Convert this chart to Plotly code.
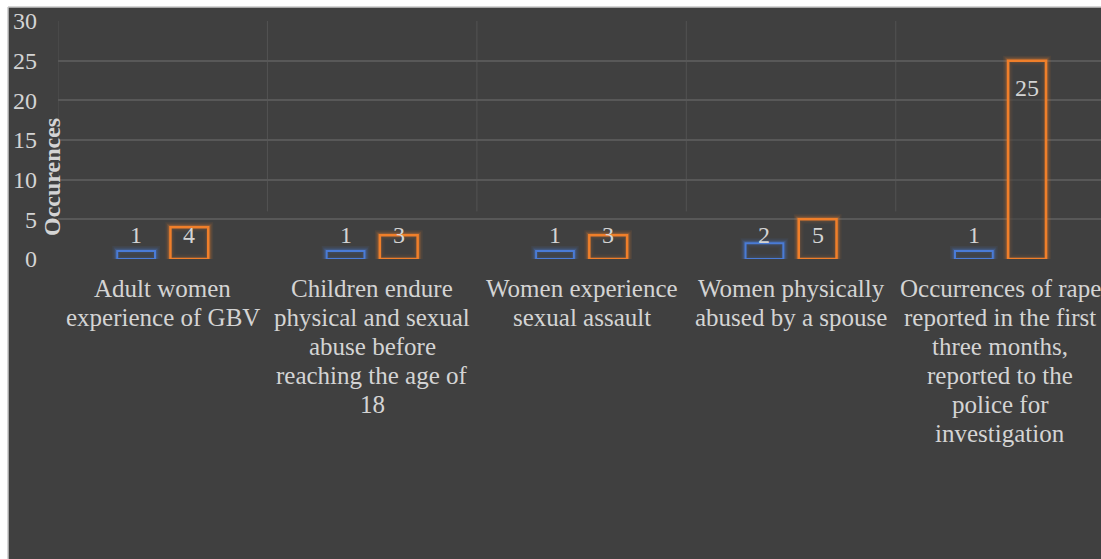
import plotly.graph_objects as go

# Category labels (line breaks follow the wrapped axis text)
categories = [
    "Adult women<br>experience of GBV",
    "Children endure<br>physical and sexual<br>abuse before<br>reaching the age of<br>18",
    "Women experience<br>sexual assault",
    "Women physically<br>abused by a spouse",
    "Occurrences of rape<br>reported in the first<br>three months,<br>reported to the<br>police for<br>investigation",
]
series_1 = [1, 1, 1, 2, 1]
series_2 = [4, 3, 3, 5, 25]
y_ticks = [0, 5, 10, 15, 20, 25, 30]

BG = "#404040"
TEXT = "#d4d4d4"
GRID = "#585858"
FONT = "'Liberation Serif', 'Times New Roman', Times, serif"
BLUE = "#4a7bd6"
ORANGE = "#f07f2a"

W, H = 1101, 559
ML, MR, MT, MB = 58, 0, 21, 300
plot_w = W - ML - MR
plot_h = H - MT - MB

xs = list(range(len(categories)))
fig = go.Figure()


def add_series(values, color, rgb, group, width, name):
    # soft glow layers underneath the outline
    for lw, alpha in [(10, 0.08), (7, 0.14), (4.5, 0.25)]:
        fig.add_trace(go.Bar(
            x=xs, y=values, offsetgroup=group, name=name, showlegend=False,
            marker=dict(color="rgba(0,0,0,0)",
                        line=dict(color=f"rgba({rgb},{alpha})", width=lw)),
            hoverinfo="skip",
        ))
    fig.add_trace(go.Bar(
        x=xs, y=values, offsetgroup=group, name=name, showlegend=False,
        marker=dict(color="rgba(64,64,64,0.6)", line=dict(color=color, width=width)),
    ))


add_series(series_1, BLUE, "74,123,214", "a", 2, "Series 1")
add_series(series_2, ORANGE, "240,127,42", "b", 2.5, "Series 2")

# value labels: near the top of tall bars, otherwise at a common height above short ones
offset = 0.127
for i in xs:
    for vals, dx in [(series_1, -offset), (series_2, offset)]:
        v = vals[i]
        fig.add_annotation(x=i + dx, y=max(v - 3.5, 3.0), xref="x", yref="y",
                           text=str(v), showarrow=False,
                           font=dict(family=FONT, size=24, color=TEXT),
                           xanchor="center", yanchor="middle")

# category labels, one line at a time with tight line spacing
LINE = 29
for i, label in zip(xs, categories):
    for j, line in enumerate(label.split("<br>")):
        fig.add_annotation(x=i, y=0, xref="x", yref="paper", text=line,
                           showarrow=False, xanchor="center", yanchor="middle",
                           yshift=-(LINE + LINE * j),
                           font=dict(family=FONT, size=25, color=TEXT))

# vertical gridlines between categories
for b in [-0.5, 0.5, 1.5, 2.5, 3.5]:
    fig.add_shape(type="line", xref="x", yref="y", x0=b, x1=b, y0=6, y1=30,
                  line=dict(color="#525252", width=1), layer="below")

# white frame strips on the top and left edges
fig.add_shape(type="rect", xref="paper", yref="paper",
              x0=-ML / plot_w, x1=1.01, y0=1 + (MT - 7) / plot_h, y1=1 + MT / plot_h + 0.01,
              fillcolor="white", line=dict(width=0), layer="above")
fig.add_shape(type="rect", xref="paper", yref="paper",
              x0=-ML / plot_w - 0.01, x1=-(ML - 8) / plot_w, y0=-MB / plot_h - 0.01,
              y1=1 + MT / plot_h + 0.01,
              fillcolor="white", line=dict(width=0), layer="above")
fig.add_shape(type="line", xref="paper", yref="paper",
              x0=-(ML - 8) / plot_w, x1=1.01, y0=1 + (MT - 7) / plot_h, y1=1 + (MT - 7) / plot_h,
              line=dict(color="#c8c8c8", width=1.5), layer="above")
fig.add_shape(type="line", xref="paper", yref="paper",
              x0=-(ML - 8) / plot_w, x1=-(ML - 8) / plot_w, y0=-MB / plot_h - 0.01,
              y1=1 + (MT - 7) / plot_h,
              line=dict(color="#c8c8c8", width=1.5), layer="above")

# axis title
fig.add_annotation(x=-6 / plot_w, y=(259 - 177 - (H - MB - 259)) / plot_h, xref="paper", yref="paper",
                   text="<b>Occurences</b>", textangle=-90, showarrow=False,
                   font=dict(family=FONT, size=24, color=TEXT),
                   xanchor="center", yanchor="middle")

fig.update_layout(
    width=W, height=H,
    margin=dict(l=ML, r=MR, t=MT, b=MB, pad=0),
    paper_bgcolor=BG, plot_bgcolor=BG,
    barmode="group", bargap=0.492, bargroupgap=0.29,
    showlegend=False,
    font=dict(family=FONT, size=24, color=TEXT),
)
fig.update_xaxes(
    range=[-0.5, 4.48], tickmode="array", tickvals=xs, ticktext=categories,
    showticklabels=False, showgrid=False, zeroline=False, showline=False, ticks="",
)
fig.update_yaxes(
    range=[0, 30], tickmode="array", tickvals=y_ticks,
    showgrid=True, gridcolor=GRID, gridwidth=1.5, zeroline=False, showline=False, ticks="",
    tickfont=dict(family=FONT, size=24, color=TEXT), ticklabelstandoff=20,
)

fig.write_html("out.html")
